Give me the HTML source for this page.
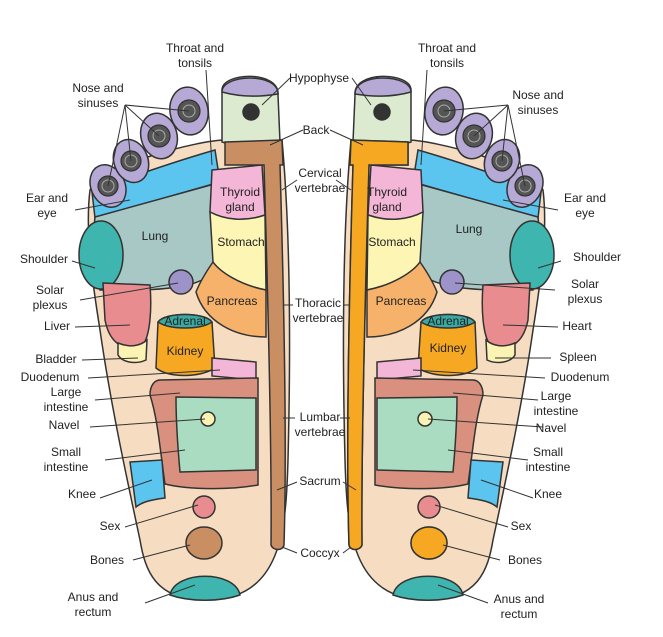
<!DOCTYPE html>
<html><head><meta charset="utf-8"><style>
html,body{margin:0;padding:0;background:#fff;}
svg{display:block;}
text{font-family:"Liberation Sans",sans-serif;font-size:12px;fill:#222;}
</style></head><body>
<svg width="663" height="637" viewBox="0 0 663 637" xmlns="http://www.w3.org/2000/svg">
<rect width="663" height="637" fill="#fff"/>
<defs>
<g id="foot" stroke="#333" stroke-width="1.5">
  <path d="M90,190 C100,165 200,140 225,140 L282,140 C292,250 290,380 288,460 C286,530 282,600 205,600 C155,600 145,570 140,540 C125,470 110,400 100,330 C92,280 85,230 90,190 Z" fill="#f6dcc0"/>
  <path d="M222,90 C222,72 280,70 278,95 L280,142 C265,146 235,146 222,142 Z" fill="#dcebd0"/>
  <path d="M222,92 C222,74 278,72 278,94 C260,97 240,97 222,92 Z" fill="#b6a9d6"/>
  <circle cx="251" cy="112" r="8" fill="#333"/>
  <path d="M92,192 C120,180 180,160 215,150 L220,182 L95,218 Z" fill="#5bc4ef"/>
  <path d="M95,217 L218,183 L214,272 C200,286 170,290 130,290 L100,290 C95,260 92,240 95,217 Z" fill="#a7c8c4"/>
  <ellipse cx="101" cy="255" rx="22" ry="34" fill="#3eb5ae"/>
  <path d="M103,283 L150,285 C152,310 150,335 143,345 C125,352 110,345 105,320 Z" fill="#e98c8f"/>
  <path d="M118,343 C130,348 140,346 147,340 L146,360 C135,365 122,362 118,355 Z" fill="#fbf3b4"/>
  <path d="M212,170 L262,165 L265,215 C245,222 225,220 210,212 Z" fill="#f4b6d6"/>
  <path d="M210,212 C225,220 245,222 265,215 L266,290 C240,285 220,272 213,262 Z" fill="#fdf5b3"/>
  <path d="M213,262 C220,272 240,285 266,290 L266,337 C235,337 205,322 196,292 C200,282 206,272 213,262 Z" fill="#f6b26b"/>
  <path d="M225,142 L282,140 L283,165 L280,165 C284,300 287,450 284,545 C283,551 273,551 271,545 C272,450 268,300 264,165 L225,165 Z" fill="#c98f63"/>
  <circle cx="181" cy="282" r="12" fill="#9d93c8"/>
  <path d="M158,322 C165,312 205,312 212,322 L215,368 C200,378 168,378 156,368 Z" fill="#f7a823"/>
  <path d="M158,322 C165,312 205,312 212,322 C200,330 170,330 158,322 Z" fill="#3aa9a1"/>
  <path d="M212,358 L256,362 L256,380 L212,376 Z" fill="#f4b6d6"/>
  <path d="M160,380 L258,378 L258,485 C230,490 190,490 165,484 C160,450 158,420 150,395 C150,385 155,380 160,380 Z" fill="#d9907e"/>
  <path d="M176,397 L256,398 L256,470 L180,472 C178,450 176,420 176,397 Z" fill="#a9dcc0"/>
  <circle cx="208" cy="419" r="7" fill="#fbf3b4"/>
  <path d="M130,462 L162,460 L165,498 C150,500 142,502 136,507 Z" fill="#5bc4ef"/>
  <circle cx="204" cy="507" r="11" fill="#e98c8f"/>
  <ellipse cx="204" cy="543" rx="18" ry="16" fill="#c98f63"/>
  <path d="M170,595 C175,570 235,570 240,595 C220,602 190,602 170,595 Z" fill="#3eb5ae"/>
  <ellipse cx="108" cy="186" rx="17" ry="22" fill="#b6a9d6" transform="rotate(-25 108 186)"/>
  <ellipse cx="131" cy="161" rx="17" ry="22" fill="#b6a9d6" transform="rotate(-20 131 161)"/>
  <ellipse cx="159" cy="136" rx="18" ry="23" fill="#b6a9d6" transform="rotate(-15 159 136)"/>
  <ellipse cx="189" cy="111" rx="19" ry="24" fill="#b6a9d6" transform="rotate(-10 189 111)"/>
  <g fill="#555" stroke="#333" stroke-width="1.2">
    <circle cx="108" cy="186" r="10"/><circle cx="131" cy="161" r="10"/>
    <circle cx="159" cy="136" r="11"/><circle cx="189" cy="111" r="11"/>
  </g>
  <g fill="none" stroke="#aaa" stroke-width="1">
    <circle cx="108" cy="186" r="6"/><circle cx="131" cy="161" r="6"/>
    <circle cx="159" cy="136" r="6"/><circle cx="189" cy="111" r="6"/>
  </g>
</g>
</defs>
<use href="#foot"/>
<g transform="translate(633,0) scale(-1,1)">
  <use href="#foot"/>
  <path d="M225,142 L282,140 L283,165 L280,165 C284,300 287,450 284,545 C283,551 273,551 271,545 C272,450 268,300 264,165 L225,165 Z" fill="#f7a823" stroke="#333" stroke-width="1.5"/>
  <ellipse cx="204" cy="543" rx="18" ry="16" fill="#f7a823" stroke="#333" stroke-width="1.5"/>
</g>
<g stroke="#333" stroke-width="1" fill="none">
  <path d="M125,105 L108,186 M125,105 L131,161 M125,105 L159,136 M125,105 L189,111"/>
  <path d="M508,105 L525,186 M508,105 L502,161 M508,105 L474,136 M508,105 L444,111"/>
  <path d="M206,70 L212,165 M427,70 L421,165"/>
  <path d="M290,78 L262,105 M352,78 L371,105"/>
  <path d="M303,130 L270,145 M330,130 L363,145"/>
  <path d="M297,180 L282,190 M336,180 L351,190"/>
  <path d="M75,210 L130,200 M558,210 L503,200"/>
  <path d="M72,261 L95,268 M561,261 L538,268"/>
  <path d="M80,300 L178,283 M555,290 L455,283"/>
  <path d="M75,327 L130,325 M558,327 L503,325"/>
  <path d="M82,360 L138,358 M551,358 L495,358"/>
  <path d="M88,378 L220,370 M545,378 L413,370"/>
  <path d="M95,400 L180,393 M538,400 L453,393"/>
  <path d="M90,427 L205,419 M543,427 L428,419"/>
  <path d="M105,460 L185,450 M528,460 L448,450"/>
  <path d="M100,498 L152,480 M533,498 L481,480"/>
  <path d="M125,527 L198,505 M508,527 L435,505"/>
  <path d="M133,560 L190,545 M500,560 L443,545"/>
  <path d="M145,603 L195,585 M488,603 L438,585"/>
  <path d="M293,305 L283,305 M343,305 L350,305"/>
  <path d="M295,418 L283,418 M340,418 L350,418"/>
  <path d="M297,482 L277,490 M343,482 L356,490"/>
  <path d="M297,553 L282,547 M343,553 L351,547"/>
</g>
<g text-anchor="middle">
  <text x="155" y="240">Lung</text><text x="469" y="233">Lung</text>
  <text x="240" y="196">Thyroid</text><text x="240" y="211">gland</text>
  <text x="387" y="196">Thyroid</text><text x="387" y="211">gland</text>
  <text x="241" y="246">Stomach</text><text x="392" y="246">Stomach</text>
  <text x="232" y="305">Pancreas</text><text x="401" y="305">Pancreas</text>
  <text x="185" y="325">Adrenal</text><text x="448" y="325">Adrenal</text>
  <text x="185" y="355">Kidney</text><text x="448" y="352">Kidney</text>
  <text x="195" y="52">Throat and</text><text x="195" y="67">tonsils</text>
  <text x="98" y="92">Nose and</text><text x="98" y="107">sinuses</text>
  <text x="47" y="202">Ear and</text><text x="47" y="217">eye</text>
  <text x="44" y="263">Shoulder</text>
  <text x="50" y="294">Solar</text><text x="50" y="309">plexus</text>
  <text x="57" y="330">Liver</text>
  <text x="56" y="363">Bladder</text>
  <text x="50" y="381">Duodenum</text>
  <text x="66" y="396">Large</text><text x="66" y="411">intestine</text>
  <text x="64" y="429">Navel</text>
  <text x="66" y="456">Small</text><text x="66" y="471">intestine</text>
  <text x="82" y="498">Knee</text>
  <text x="110" y="530">Sex</text>
  <text x="107" y="564">Bones</text>
  <text x="93" y="601">Anus and</text><text x="93" y="616">rectum</text>
  <text x="319" y="82">Hypophyse</text>
  <text x="316" y="134">Back</text>
  <text x="320" y="177">Cervical</text><text x="320" y="192">vertebrae</text>
  <text x="318" y="307">Thoracic</text><text x="318" y="322">vertebrae</text>
  <text x="320" y="421">Lumbar</text><text x="320" y="436">vertebrae</text>
  <text x="320" y="485">Sacrum</text>
  <text x="320" y="557">Coccyx</text>
  <text x="447" y="52">Throat and</text><text x="447" y="67">tonsils</text>
  <text x="538" y="99">Nose and</text><text x="538" y="114">sinuses</text>
  <text x="585" y="202">Ear and</text><text x="585" y="217">eye</text>
  <text x="597" y="261">Shoulder</text>
  <text x="585" y="288">Solar</text><text x="585" y="303">plexus</text>
  <text x="577" y="330">Heart</text>
  <text x="578" y="361">Spleen</text>
  <text x="580" y="381">Duodenum</text>
  <text x="556" y="400">Large</text><text x="556" y="415">intestine</text>
  <text x="551" y="432">Navel</text>
  <text x="548" y="456">Small</text><text x="548" y="471">intestine</text>
  <text x="548" y="498">Knee</text>
  <text x="521" y="530">Sex</text>
  <text x="525" y="564">Bones</text>
  <text x="519" y="603">Anus and</text><text x="519" y="618">rectum</text>
</g>
</svg>
</body></html>
